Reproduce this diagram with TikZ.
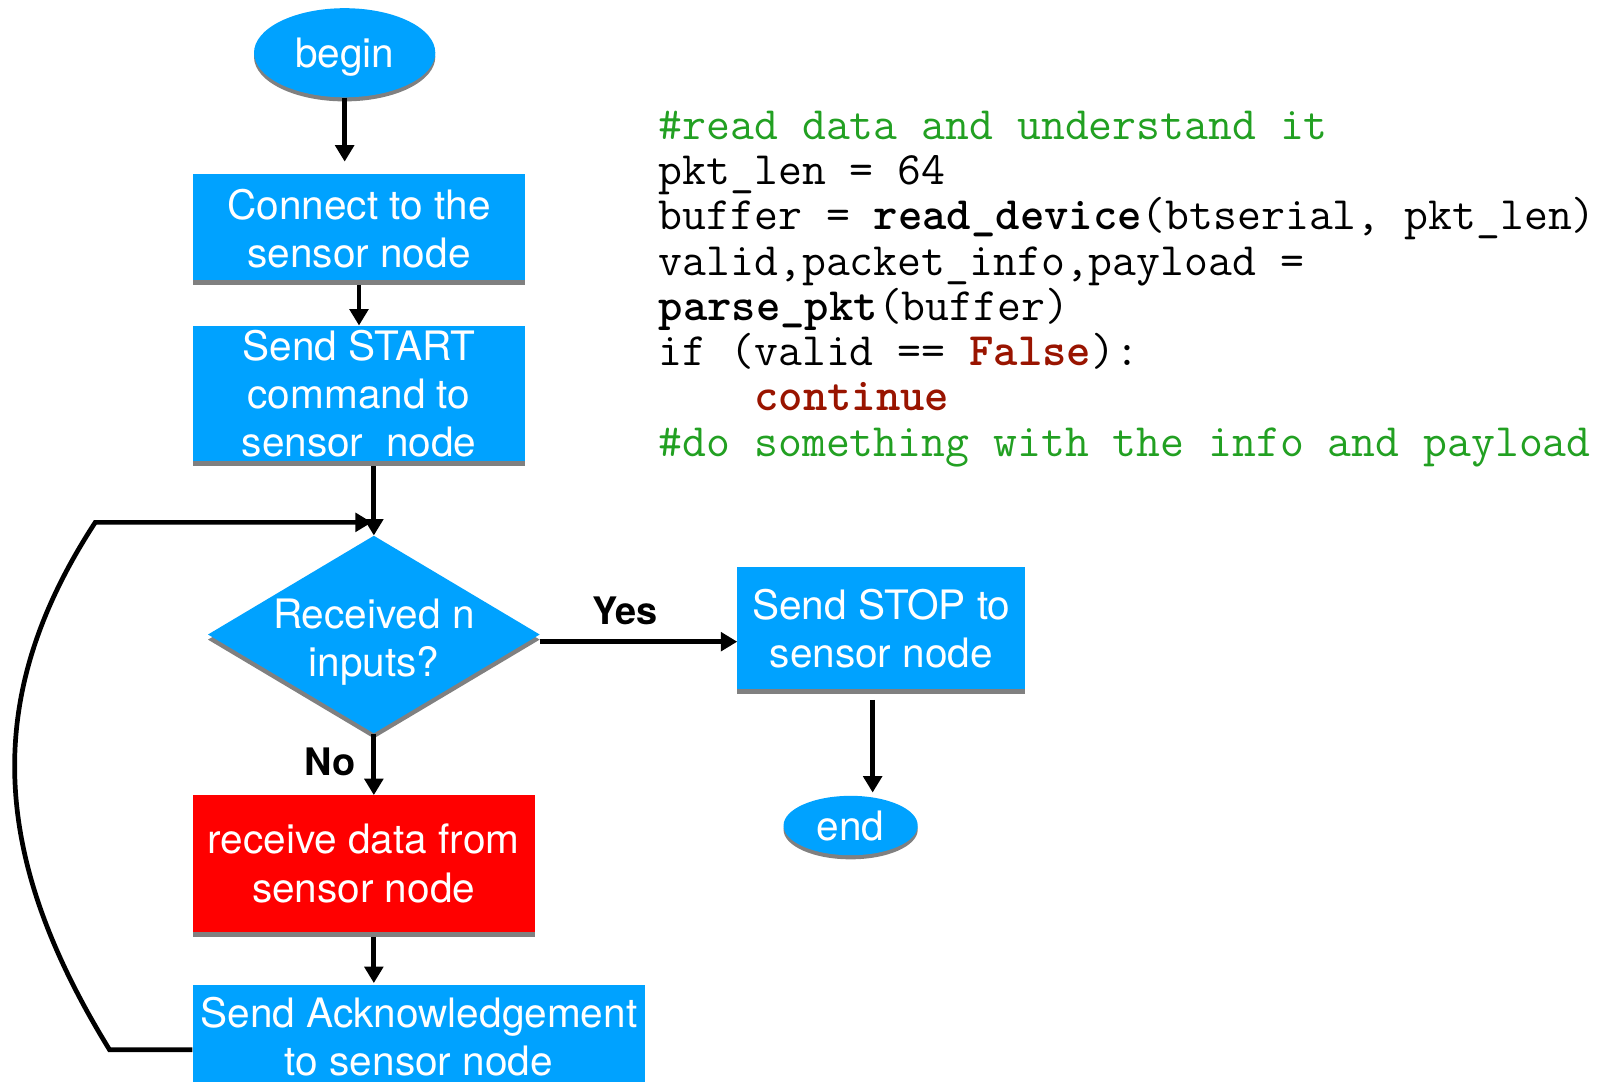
\documentclass[tikz,border=0pt]{standalone}
\usepackage{fontspec}
\setmainfont{TeX Gyre Heros}
\usetikzlibrary{shapes.geometric,arrows.meta,shadows}

\definecolor{boxblue}{RGB}{0,162,255}
\definecolor{boxred}{RGB}{255,0,0}
\definecolor{shadowgray}{RGB}{128,128,128}
\definecolor{commentgreen}{RGB}{34,160,34}
\definecolor{keyred}{RGB}{153,20,0}

\tikzset{
  boxshadow/.style={general shadow={fill=shadowgray, shadow xshift=0pt, shadow yshift=-5pt}},
  flowtext/.style={text=white, align=center, font=\fontsize{39.6}{47}\selectfont},
  stepbox/.style={rectangle, fill=boxblue, inner sep=0pt, boxshadow, flowtext},
  redbox/.style={stepbox, fill=boxred},
  terminal/.style={ellipse, fill=boxblue, inner sep=0pt, flowtext, text depth=0pt,
    general shadow={fill=shadowgray, shadow xshift=0pt, shadow yshift=-4pt}},
  decision/.style={diamond, fill=boxblue, inner sep=0pt, boxshadow},
  flow/.style={draw=black, line width=4.6pt, -{Triangle[length=16pt,width=18pt]}},
  branchlabel/.style={font=\bfseries\fontsize{37}{40}\selectfont, inner sep=0pt},
  codeline/.style={anchor=base west, inner sep=0pt,
    font=\ttfamily\fontsize{45.3}{45.3}\selectfont},
}

\begin{document}
\begin{tikzpicture}[x=1pt, y=-1pt]
  \clip (0,0) rectangle (1568,1056);

  % flowchart blocks
  \node[terminal, minimum width=177pt, minimum height=87pt] (begin) at (336.5,51.5) {begin};
  \node[stepbox, minimum width=325pt, minimum height=103pt] (connect) at (350.5,221.5)
    {\strut Connect to the\\sensor node};
  \node[stepbox, minimum width=325pt, minimum height=132pt] (start) at (350.5,384)
    {Send START\\command to\\sensor\ \ node};
  \node[decision, minimum width=324pt, minimum height=193pt] (dec) at (365,619.5) {};
  \node[flowtext, inner sep=0pt] (dectext) at (365,627) {Received n\\inputs?};
  \node[stepbox, minimum width=281pt, minimum height=119pt] (stop) at (860.5,613.5)
    {Send STOP to\\sensor node};
  \node[terminal, minimum width=131pt, minimum height=58pt] (endn) at (830.5,806) {end};
  \node[redbox, minimum width=334pt, minimum height=133pt] (recv) at (355,843)
    {receive data from\\sensor node};
  \node[stepbox, minimum width=442pt, minimum height=100pt] (ack) at (409,1012)
    {Send Acknowledgement\\to sensor node};

  % branch labels
  \node[branchlabel] (yes) at (610,596) {Yes};
  \node[branchlabel] (no) at (322,744) {No};

  % loop corners
  \coordinate (loopbot) at (107,1025);
  \coordinate (looptop) at (93,510);

  % connectors
  \draw[flow] (begin.south) -- ([yshift=12pt]begin.south |- connect.north);
  \draw[flow] ([yshift=-5pt]connect.south) -- (start.north);
  \draw[flow] ([yshift=-5pt]start.south -| dec.north) -- (dec.north);
  \draw[flow] ([yshift=-13pt]ack.west) -- (loopbot)
    .. controls (-10,835) and (-18,680) .. (looptop) -- ([xshift=-2pt]looptop -| dec.north);
  \draw[flow] ([yshift=-7pt]dec.east) -- ([yshift=-7pt]dec.east -| stop.west);
  \draw[flow] ([xshift=-8.5pt,yshift=-10pt]stop.south) coordinate (stopout)
    -- ([yshift=3pt]stopout |- endn.north);
  \draw[flow] (dec.south) -- (dec.south |- recv.north);
  \draw[flow] ([yshift=-5pt]recv.south -| dec.south) -- ([yshift=2pt]dec.south |- ack.north);

  % code listing
  \node[codeline, text=commentgreen] (c1) at (643,136) {\#read data and understand it};
  \node[codeline] (c2) at (643,180.2) {pkt\_len = 64};
  \node[codeline] (c3) at (643,224.4) {buffer = \textbf{read\_device}(btserial, pkt\_len)};
  \node[codeline] (c4) at (643,268.6) {valid,packet\_info,payload =};
  \node[codeline] (c5) at (643,312.8) {\textbf{parse\_pkt}(buffer)};
  \node[codeline] (c6) at (643,357) {if (valid == \textbf{\textcolor{keyred}{False}}):};
  \node[codeline] (c7) at (643,401.2) {\hphantom{xxxx}\textbf{\textcolor{keyred}{continue}}};
  \node[codeline, text=commentgreen] (c8) at (643,445.4) {\#do something with the info and payload};
\end{tikzpicture}
\end{document}
